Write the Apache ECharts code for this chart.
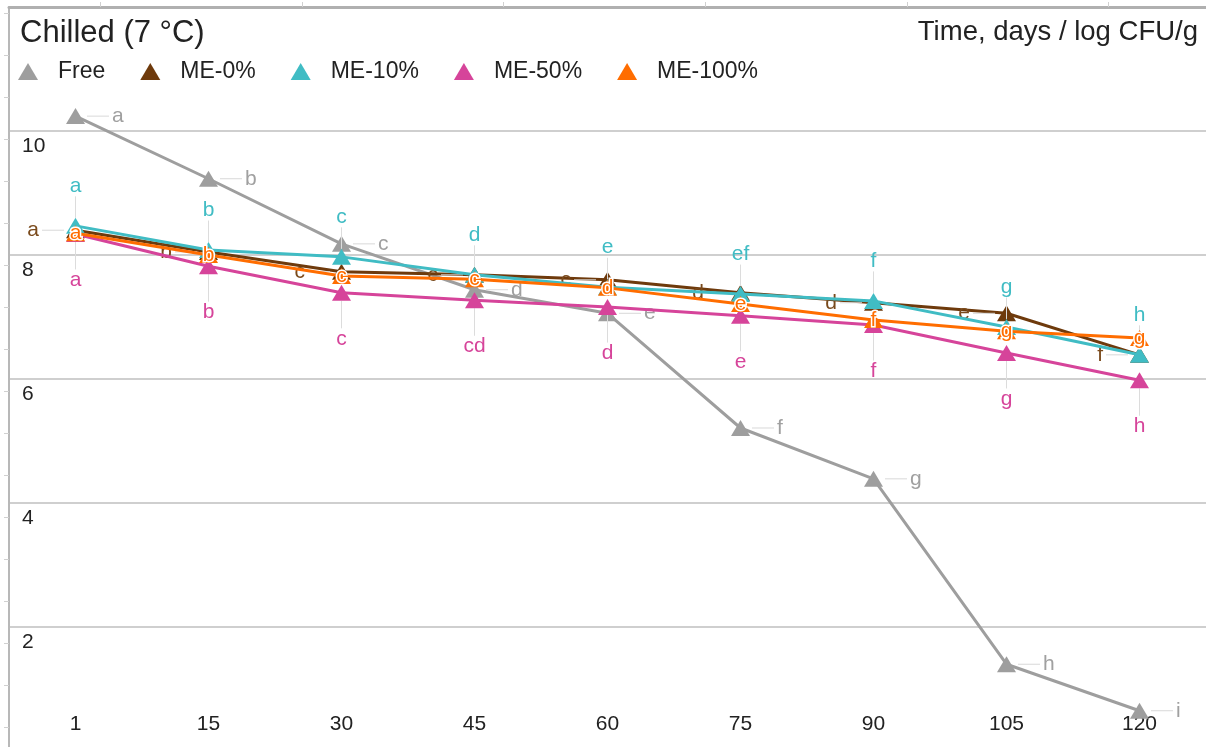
<!DOCTYPE html>
<html>
<head>
<meta charset="utf-8">
<script src="https://cdn.jsdelivr.net/npm/echarts@6/dist/echarts.min.js"></script>
<style>
html,body{margin:0;padding:0;background:#fff;}
#chart{width:1206px;height:747px;}
</style>
</head>
<body>
<div id="chart"></div>
<script>
// ---- data ----
var days = ['1', '15', '30', '45', '60', '75', '90', '105', '120'];
var seriesNames = ['Free', 'ME-0%', 'ME-10%', 'ME-50%', 'ME-100%'];
var freeValues  = [10.24, 9.23, 8.18, 7.44, 7.06, 5.21, 4.39, 1.40, 0.65];
var me0Values   = [8.40, 8.05, 7.73, 7.68, 7.60, 7.39, 7.23, 7.06, 6.39];
var me10Values  = [8.47, 8.08, 7.97, 7.68, 7.48, 7.37, 7.26, 6.84, 6.39];
var me50Values  = [8.34, 7.82, 7.39, 7.27, 7.16, 7.02, 6.87, 6.42, 5.98];
var me100Values = [8.35, 8.00, 7.66, 7.61, 7.47, 7.21, 6.95, 6.77, 6.66];
var freeLetters  = ['a','b','c','d','e','f','g','h','i'];
var me0Letters   = ['a','b','c','c','c','d','d','e','f'];
var me10Letters  = ['a','b','c','d','e','ef','f','g','h'];
var me50Letters  = ['a','b','c','cd','d','e','f','g','h'];
var me100Letters = ['a','b','c','c','d','e','f','g','g'];
var yMin = 0.065, yMax = 12;

var colors = ['#9e9e9e', '#6e3a0c', '#40bcc4', '#d6449a', '#ff6d00'];
var labelColors = ['#a0a0a0', '#7a4a1c', '#40bcc4', '#d6449a', '#ff6d00'];
var FONT = 'Liberation Sans, Arial, sans-serif';

// decorative ruler ticks of the frame (pixel offsets inside the grid)
var topRuler = [91, 293, 494, 696, 898, 1099];
var leftRuler = [];
for (var k = 6; k < 740; k += 42) leftRuler.push(k);

function letterOf(p) { return p.data.letter; }

function baseSeries(idx, values, letters) {
  return {
    name: seriesNames[idx],
    type: 'line',
    data: values.map(function (v, i) { return { value: v, letter: letters[i] }; }),
    symbol: 'triangle',
    symbolSize: [19, 16],
    lineStyle: { width: 3, color: colors[idx] },
    itemStyle: { color: colors[idx] },
    emphasis: { disabled: true },
    z: 2 + idx
  };
}

var stemStyle = { width: 22, height: 1, backgroundColor: '#d8d8d8', verticalAlign: 'middle' };

var sFree = baseSeries(0, freeValues, freeLetters);
sFree.label = {
  show: true, position: 'right', distance: 2,
  formatter: function (p) { return '{s| }{t|' + p.data.letter + '}'; },
  rich: {
    s: stemStyle,
    t: { fontFamily: FONT, fontSize: 21, color: labelColors[0], padding: [0, 0, 0, 3], verticalAlign: 'middle' }
  }
};

var sMe0 = baseSeries(1, me0Values, me0Letters);
sMe0.label = {
  show: true, position: 'left', distance: 2,
  formatter: function (p) { return '{t|' + p.data.letter + '}{s| }'; },
  rich: {
    s: stemStyle,
    t: { fontFamily: FONT, fontSize: 21, color: labelColors[1], padding: [0, 3, 0, 0], verticalAlign: 'middle' }
  }
};

function vertSeries(idx, values, letters, dy) {
  var s = baseSeries(idx, values, letters);
  s.label = { show: true, position: 'inside', fontFamily: FONT, fontSize: 21, color: labelColors[idx], formatter: letterOf };
  s.labelLayout = { dx: 0, dy: dy };
  s.labelLine = { show: true, lineStyle: { color: '#dcdcdc', width: 1 } };
  return s;
}

var sMe10 = vertSeries(2, me10Values, me10Letters, -40);
var sMe50 = vertSeries(3, me50Values, me50Letters, 46);

var sMe100 = baseSeries(4, me100Values, me100Letters);
sMe100.label = {
  show: true, position: 'inside', fontFamily: FONT, fontSize: 21,
  color: labelColors[4], textBorderColor: '#fff', textBorderWidth: 3, formatter: letterOf
};

var chart = echarts.init(document.getElementById('chart'), null, { renderer: 'canvas' });
chart.setOption({
  animation: false,
  color: colors,
  title: [
    { text: 'Chilled (7 °C)', left: 15, top: 13,
      textStyle: { fontFamily: FONT, fontSize: 31, fontWeight: 'normal', color: '#222' } },
    { text: 'Time, days / log CFU/g', right: 3, top: 13,
      textStyle: { fontFamily: FONT, fontSize: 27.5, fontWeight: 'normal', color: '#222' } }
  ],
  legend: {
    left: 13, top: 55,
    icon: 'triangle',
    itemWidth: 20, itemHeight: 17,
    itemGap: 35,
    data: seriesNames,
    textStyle: { fontFamily: FONT, fontSize: 23, color: '#222', padding: [0, 0, 0, 15] }
  },
  grid: { left: 9, right: 0, top: 7, height: 740, containLabel: false },
  xAxis: [
    {
      type: 'category', data: days, boundaryGap: true,
      axisLine: { show: false, onZero: false }, axisTick: { show: false },
      axisLabel: { inside: true, margin: 12, fontFamily: FONT, fontSize: 21, color: '#222' },
      splitLine: { show: false }
    },
    {
      type: 'value', position: 'top', min: 0, max: 1197,
      axisLine: { show: true, onZero: false, lineStyle: { color: '#b0b0b0', width: 3 } },
      axisTick: { show: true, length: 5, customValues: topRuler, lineStyle: { color: '#d0d0d0' } },
      axisLabel: { show: false }, splitLine: { show: false }
    }
  ],
  yAxis: [
    {
      type: 'value', min: yMin, max: yMax, splitNumber: 5,
      axisLine: { show: true, onZero: false, lineStyle: { color: '#b8b8b8', width: 2 } },
      axisTick: { show: false },
      axisLabel: {
        inside: true, margin: 13, verticalAlign: 'top', padding: [5, 0, 0, 0],
        showMinLabel: false, showMaxLabel: false,
        fontFamily: FONT, fontSize: 21, color: '#222'
      },
      splitLine: { show: true, showMinLine: false, lineStyle: { color: '#cfcfcf', width: 2 } }
    },
    {
      type: 'value', inverse: true, min: 0, max: 740, position: 'left',
      axisLine: { show: false, onZero: false },
      axisTick: { show: true, length: 5, customValues: leftRuler, lineStyle: { color: '#d0d0d0' } },
      axisLabel: { show: false }, splitLine: { show: false }
    }
  ],
  series: [sFree, sMe0, sMe10, sMe50, sMe100]
});
</script>
</body>
</html>
